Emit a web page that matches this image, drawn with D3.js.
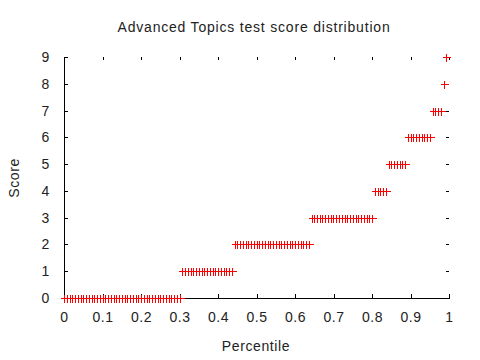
<!DOCTYPE html>
<html>
<head>
<meta charset="utf-8">
<script src="https://cdn.jsdelivr.net/npm/d3@7"></script>
<style>
  body { margin: 0; background: #fff; }
  text { font-family: "Liberation Sans", Arial, sans-serif; }
</style>
</head>
<body>
<div id="chart"></div>
<script>
// number of students at each score
var scores = [0, 1, 2, 3, 4, 5, 6, 7, 8, 9];
var counts = [43, 19, 28, 23, 5, 7, 9, 4, 1, 1];
var xTicks = [0, 0.1, 0.2, 0.3, 0.4, 0.5, 0.6, 0.7, 0.8, 0.9, 1];
var yTicks = [0, 1, 2, 3, 4, 5, 6, 7, 8, 9];

drawChart();

function drawChart() {
    // one point per student, sorted by score; percentile = rank / total
    var total = d3.sum(counts);
    var points = [];
    scores.forEach(function(s, k) {
        for (var j = 0; j < counts[k]; j++) {
            points.push({score: s, pct: points.length / total});
        }
    });

    var width = 480, height = 360;
    var plotLeft = 64, plotRight = 449, plotTop = 57, plotBottom = 298;

    var svg = d3.select('#chart').append('svg')
        .attr('width', width)
        .attr('height', height);

    var x = d3.scaleLinear().domain([0, 1]).range([plotLeft, plotRight]);
    var y = d3.scaleLinear().domain([0, 9]).range([plotBottom, plotTop]);

    var fmt = function(d) { return d3.format('~g')(d); };

    // left axis with inward ticks
    var gl = svg.append('g')
        .attr('transform', 'translate(' + plotLeft + ',0)')
        .call(d3.axisLeft(y).tickValues(yTicks).tickSizeInner(-4).tickSizeOuter(0).tickPadding(14).tickFormat(fmt));

    // bottom axis with inward ticks
    var gb = svg.append('g')
        .attr('transform', 'translate(0,' + plotBottom + ')')
        .call(d3.axisBottom(x).tickValues(xTicks).tickSizeInner(-4).tickSizeOuter(0).tickPadding(14).tickFormat(fmt));

    // mirrored ticks on top and right, no border line there
    var gt = svg.append('g')
        .attr('transform', 'translate(0,' + plotTop + ')')
        .call(d3.axisTop(x).tickValues(xTicks).tickSizeInner(-3).tickSizeOuter(0).tickFormat(''));
    var gr = svg.append('g')
        .attr('transform', 'translate(' + plotRight + ',0)')
        .call(d3.axisRight(y).tickValues(yTicks).tickSizeInner(-3).tickSizeOuter(0).tickFormat(''));
    gt.select('.domain').remove();
    gr.select('.domain').remove();

    [gl, gb, gt, gr].forEach(function(g) {
        g.selectAll('text')
            .attr('font-size', 14)
            .attr('font-family', '"Liberation Sans", Arial, sans-serif')
            .attr('letter-spacing', 0.6)
            .attr('fill', '#222');
        g.selectAll('line, path').attr('stroke', '#000').attr('shape-rendering', 'crispEdges');
    });

    // the points, drawn as '+'
    var r = 4;
    var marks = svg.append('g')
        .attr('stroke', '#ff0000')
        .attr('stroke-width', 1)
        .attr('shape-rendering', 'crispEdges');
    marks.selectAll('path')
        .data(points)
        .enter()
        .append('path')
        .attr('d', function(d) {
            var px = Math.round(x(d.pct)) + 0.5, py = Math.round(y(d.score)) + 0.5;
            return 'M' + (px - r) + ',' + py + 'H' + (px + r) + 'M' + px + ',' + (py - r) + 'V' + (py + r);
        });

    // title and axis labels
    svg.append('text')
        .attr('x', 254)
        .attr('y', 32)
        .attr('text-anchor', 'middle')
        .attr('font-size', 14)
        .attr('letter-spacing', 0.8)
        .attr('fill', '#222')
        .text('Advanced Topics test score distribution');

    svg.append('text')
        .attr('x', 256)
        .attr('y', 351)
        .attr('text-anchor', 'middle')
        .attr('font-size', 14)
        .attr('letter-spacing', 0.6)
        .attr('fill', '#222')
        .text('Percentile');

    svg.append('text')
        .attr('transform', 'translate(19,178) rotate(-90)')
        .attr('text-anchor', 'middle')
        .attr('font-size', 14)
        .attr('letter-spacing', 0.6)
        .attr('fill', '#222')
        .text('Score');
}
</script>
</body>
</html>
